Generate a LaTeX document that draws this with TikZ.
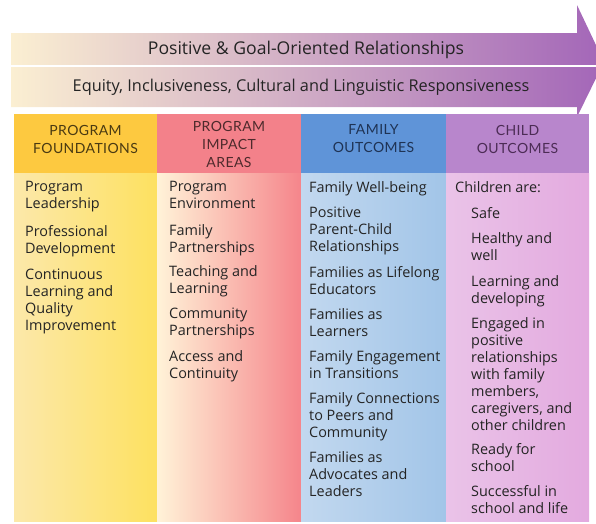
\documentclass[tikz,border=0pt]{standalone}
\usepackage{fontspec}
\setmainfont{Open Sans}
\newfontfamily\headfont[LetterSpace=3]{Lato}
\usetikzlibrary{positioning}

\definecolor{bandL}{HTML}{FBEFD2}
\definecolor{bandR}{HTML}{A366B8}
\definecolor{hdA}{HTML}{FDC940}
\definecolor{hdB}{HTML}{F3818A}
\definecolor{hdC}{HTML}{5F94D8}
\definecolor{hdD}{HTML}{B886CC}
\definecolor{colAL}{HTML}{FCE8AA}
\definecolor{colAR}{HTML}{FDE160}
\definecolor{colBL}{HTML}{FFF3D8}
\definecolor{colBR}{HTML}{F5858B}
\definecolor{colCL}{HTML}{C2D8EF}
\definecolor{colCR}{HTML}{A2C5E8}
\definecolor{colDL}{HTML}{EAC3E8}
\definecolor{colDR}{HTML}{E3AADF}
\definecolor{txt}{HTML}{242424}
\definecolor{txtA}{HTML}{4A3A12}
\definecolor{txtB}{HTML}{4E2A2C}
\definecolor{txtC}{HTML}{1F3354}
\definecolor{txtD}{HTML}{4C2C55}

\begin{document}
\begin{tikzpicture}[x=1pt,y=-1pt]
\tikzstyle{every node}+=[inner sep=0pt]
\tikzstyle{head}=[align=center,font=\headfont\fontsize{14}{18}\selectfont]
\tikzstyle{item}=[anchor=north west,align=left,text=txt,font=\fontsize{14.4}{17}\selectfont]
\tikzstyle{band}=[text=txt]
\useasboundingbox (0,0) rectangle (596,523);
\begin{scope}
\clip (0,0) rectangle (596,523);
\shade [left color=bandL, right color=bandR] (11,33) -- (577,33) -- (577,5) -- (604,62) -- (577,117) -- (577,107) -- (11,107) -- cycle;
\draw [white, line width=1.5pt] (11,66) -- (600,66);
\end{scope}
\node [band, font=\fontsize{17.6}{18}\selectfont] (rel) at (306,50) {Positive \& Goal-Oriented Relationships};
\node [band, font=\fontsize{16.3}{18}\selectfont] (equity) at (301,87) {Equity, Inclusiveness, Cultural and Linguistic Responsiveness};
% columns
\shade [left color=colAL, right color=colAR] (14,173) rectangle (157,521);
\shade [left color=colBL, right color=colBR] (157,173) rectangle (301,521);
\shade [left color=colCL, right color=colCR] (301,173) rectangle (446,521);
\shade [left color=colDL, right color=colDR] (446,173) rectangle (589,521);
\fill [hdA] (14,114) rectangle (157,173);
\fill [hdB] (157,114) rectangle (301,173);
\fill [hdC] (301,114) rectangle (446,173);
\fill [hdD] (446,114) rectangle (589,173);
\node [head, text=txtA] (found) at (85.5,139) {PROGRAM\\FOUNDATIONS};
\node [head, text=txtB] (impact) at (229,144) {PROGRAM\\IMPACT\\AREAS};
\node [head, text=txtC] (family) at (373.5,139) {FAMILY\\OUTCOMES};
\node [head, text=txtD] (child) at (517.5,139) {CHILD\\OUTCOMES};
% program foundations
\node [item] (lead) at (25,181) {Program\\Leadership};
\node [item] (prof) at (25,225) {Professional\\Development};
\node [item] (cont) at (25,269) {Continuous\\Learning and\\Quality\\Improvement};
% program impact areas
\node [item] (env) at (169,181) {Program\\Environment};
\node [item] (part) at (169,224) {Family\\Partnerships};
\node [item] (teach) at (169,265) {Teaching and\\Learning};
\node [item] (comm) at (169,308) {Community\\Partnerships};
\node [item] (access) at (169,350) {Access and\\Continuity};
% family outcomes
\node [item] (well) at (309,181) {Family Well-being};
\node [item] (parent) at (309,207) {Positive\\Parent-Child\\Relationships};
\node [item] (life) at (309,266) {Families as Lifelong\\Educators};
\node [item] (learn) at (309,308) {Families as\\Learners};
\node [item] (trans) at (309,350) {Family Engagement\\in Transitions};
\node [item] (peers) at (309,392) {Family Connections\\to Peers and\\Community};
\node [item] (advoc) at (309,451) {Families as\\Advocates and\\Leaders};
% child outcomes
\node [item] (are) at (455,181) {Children are:};
\node [item] (safe) at (471,207) {Safe};
\node [item] (healthy) at (471,232) {Healthy and\\well};
\node [item] (devel) at (471,275) {Learning and\\developing};
\node [item] (engaged) at (471,317) {Engaged in\\positive\\relationships\\with family\\members,\\caregivers, and\\other children};
\node [item] (ready) at (471,443) {Ready for\\school};
\node [item] (success) at (471,485) {Successful in\\school and life};
\end{tikzpicture}
\end{document}
